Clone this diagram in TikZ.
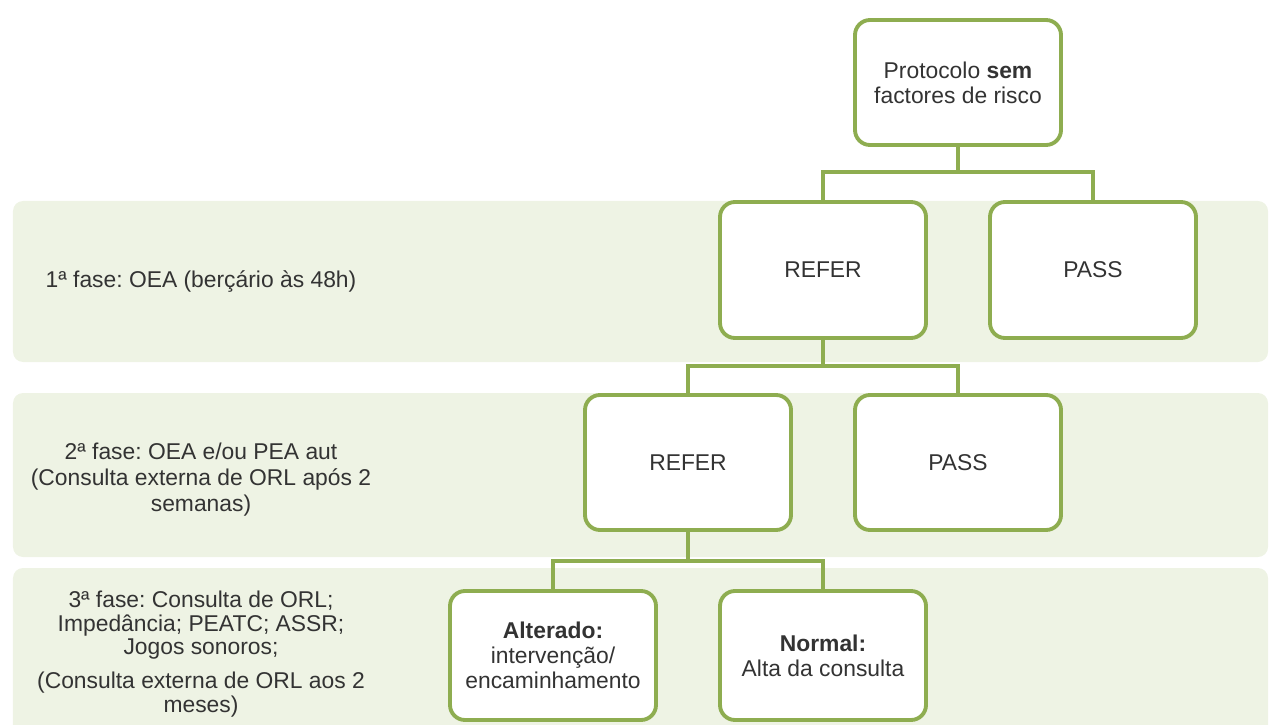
\documentclass[tikz,border=0pt]{standalone}
\usepackage{fontspec}
\setmainfont{Liberation Sans}
\frenchspacing
\definecolor{boxgreen}{HTML}{8EAD50}
\definecolor{bandgreen}{HTML}{EEF3E4}
\definecolor{txtgray}{HTML}{333333}

\begin{document}
\begin{tikzpicture}[
	stage/.style={draw=boxgreen,line width=2.2pt,fill=white,rounded corners=0.3cm,minimum width=4.12cm,minimum height=2.7cm,align=center,text=txtgray,inner sep=2pt,font=\fontsize{13}{14.2}\selectfont},
	link/.style={draw=boxgreen,line width=2.2pt},
	phase/.style={align=center,text=txtgray,inner sep=0pt,font=\fontsize{13}{14.8}\selectfont}
	]
	\useasboundingbox (0,0) rectangle (25.4,14.48);
	\clip (0,0) rectangle (25.4,14.48);
	
	%bands
	\fill[bandgreen,rounded corners=0.2cm] (0.26,7.24) rectangle (25.36,10.46);	%1st phase
	\fill[bandgreen,rounded corners=0.2cm] (0.26,3.34) rectangle (25.36,6.62);	%2nd phase
	\fill[bandgreen,rounded corners=0.2cm] (0.26,-0.3) rectangle (25.36,3.12);	%3rd phase
	
	%phase labels
	\node[phase] (ph1) at (4.02,8.84) {1ª fase: OEA (berçário às 48h)};
	\node[phase] (ph2) at (4.02,4.88) {2ª fase: OEA e/ou PEA aut\\(Consulta externa de ORL após 2\\semanas)};
	\node[phase,font=\fontsize{13}{13.6}\selectfont] (ph3) at (4.02,1.40) {3ª fase: Consulta de ORL;\\Impedância; PEATC; ASSR;\\Jogos sonoros;\\[0.2cm](Consulta externa de ORL aos 2\\meses)};
	
	%fork points
	\coordinate (forkA) at (19.16,11.04);
	\coordinate (forkB) at (16.46,7.16);
	\coordinate (forkC) at (13.76,3.26);
	
	%boxes
	\node[stage,minimum height=2.5cm] (top) at (19.16,12.83) {Protocolo \textbf{sem}\\factores de risco};
	\node[stage,minimum height=2.72cm] (refA) at (16.46,9.08) {REFER};
	\node[stage,minimum height=2.72cm] (passA) at (21.86,9.08) {PASS};
	\node[stage] (refB) at (13.76,5.23) {REFER};
	\node[stage] (passB) at (19.16,5.23) {PASS};
	\node[stage,minimum height=2.58cm] (alt) at (11.06,1.37) {\textbf{Alterado:}\\intervenção/\\encaminhamento};
	\node[stage,minimum height=2.58cm] (norm) at (16.46,1.37) {\textbf{Normal:}\\Alta da consulta};
	
	%connectors
	\draw[link] (top.south) -- (forkA);
	\draw[link] (refA.north) |- (forkA) -| (passA.north);
	\draw[link] (refA.south) -- (forkB);
	\draw[link] (refB.north) |- (forkB) -| (passB.north);
	\draw[link] (refB.south) -- (forkC);
	\draw[link] (alt.north) |- (forkC) -| (norm.north);
\end{tikzpicture}
\end{document}
